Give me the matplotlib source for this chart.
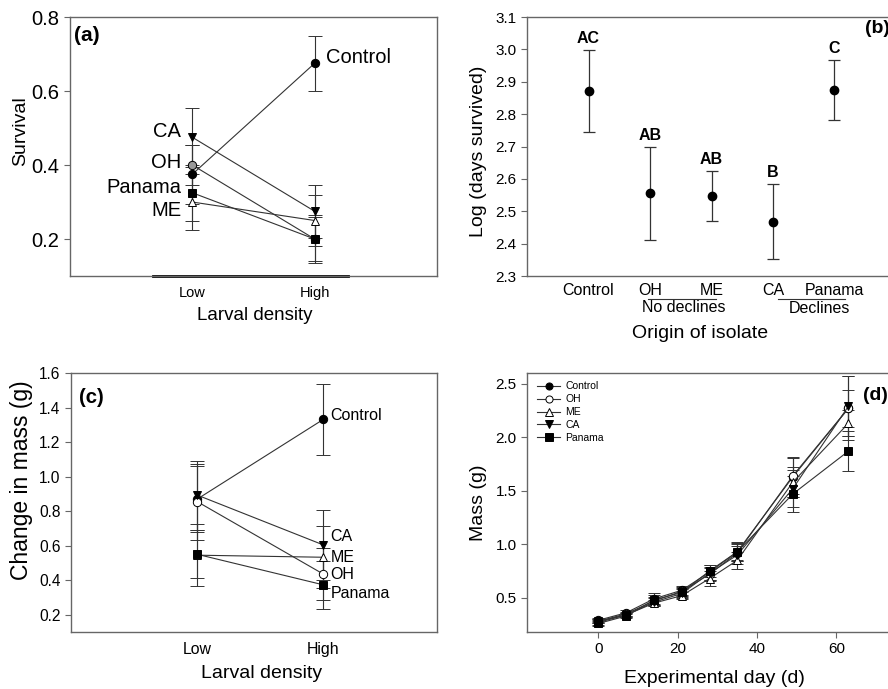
import numpy as np
import matplotlib
matplotlib.use('Agg')
import matplotlib.pyplot as plt
import matplotlib.transforms as mtransforms

plt.rcParams['font.family'] = ['Liberation Sans', 'DejaVu Sans']

# ---- data ----
groups = ['Control', 'OH', 'ME', 'CA', 'Panama']
density = ['Low', 'High']

# (a) survival, low / high density
surv = {'Control': [0.375, 0.675], 'OH': [0.40, 0.20], 'ME': [0.30, 0.25],
        'CA': [0.475, 0.275], 'Panama': [0.325, 0.20]}
surv_err = {'Control': [0.08, 0.075], 'OH': [0.055, 0.065], 'ME': [0.075, 0.07],
            'CA': [0.08, 0.072], 'Panama': [0.075, 0.06]}

# (b) log days survived
logdays = [2.871, 2.555, 2.547, 2.468, 2.874]
logdays_err = [0.127, 0.144, 0.077, 0.116, 0.092]
letters = ['AC', 'AB', 'AB', 'B', 'C']

# (c) change in mass
dmass = {'Control': [0.87, 1.332], 'OH': [0.855, 0.435], 'ME': [0.545, 0.533],
         'CA': [0.893, 0.604], 'Panama': [0.55, 0.373]}
dmass_err = {'Control': [0.19, 0.205], 'OH': [0.22, 0.15], 'ME': [0.18, 0.18],
             'CA': [0.2, 0.205], 'Panama': [0.14, 0.14]}

# (d) mass over time
days = [0, 7, 14, 21, 28, 35, 49, 63]
mass = {'Control': [0.29, 0.36, 0.49, 0.57, 0.74, 0.93, 1.63, 2.27],
        'OH': [0.28, 0.35, 0.47, 0.56, 0.72, 0.92, 1.64, 2.27],
        'ME': [0.27, 0.34, 0.45, 0.52, 0.68, 0.85, 1.58, 2.13],
        'CA': [0.28, 0.34, 0.46, 0.54, 0.73, 0.90, 1.52, 2.29],
        'Panama': [0.26, 0.33, 0.48, 0.55, 0.75, 0.93, 1.47, 1.87]}
mass_err = {'Control': [0.02, 0.03, 0.05, 0.04, 0.07, 0.09, 0.19, 0.30],
            'OH': [0.02, 0.02, 0.04, 0.04, 0.06, 0.08, 0.17, 0.17],
            'ME': [0.02, 0.02, 0.03, 0.03, 0.07, 0.08, 0.14, 0.12],
            'CA': [0.02, 0.02, 0.04, 0.04, 0.06, 0.08, 0.17, 0.28],
            'Panama': [0.02, 0.02, 0.05, 0.04, 0.06, 0.08, 0.17, 0.19]}

# marker styles
mk = {'Control': ('o', 'black'), 'OH': ('o', 'white'), 'ME': ('^', 'white'),
      'CA': ('v', 'black'), 'Panama': ('s', 'black')}

line_c = '#333333'
spine_c = '#666666'

def style(ax):
    for s in ax.spines.values():
        s.set_color(spine_c)
        s.set_linewidth(1.0)
    ax.tick_params(colors=spine_c, labelcolor='black', direction='out', length=4, width=0.8)


fig = plt.figure(figsize=(8.88, 6.89), dpi=100)
ax_a = fig.add_axes([0.0788, 0.5994, 0.4133, 0.3759])
ax_b = fig.add_axes([0.5935, 0.5994, 0.4155, 0.3759])
ax_c = fig.add_axes([0.0800, 0.0827, 0.4122, 0.3759])
ax_d = fig.add_axes([0.5935, 0.0827, 0.4155, 0.3759])

xpos = np.array([1, 2])

# ---- (a) ----
a_face = dict(mk)
a_face['OH'] = ('o', '#999999')
for g in groups:
    m, fc = a_face[g]
    ax_a.errorbar(xpos, surv[g], yerr=surv_err[g], color=line_c, lw=0.8, elinewidth=0.8,
                  capsize=5, capthick=0.8, marker=m, ms=6, mfc=fc, mec='black', mew=0.7)
a_off = {'CA': 4, 'OH': 2, 'Panama': 4, 'ME': -6}
for g in ['CA', 'OH', 'Panama', 'ME']:
    ax_a.annotate(g, (1, surv[g][0]), xytext=(-8, a_off[g]), textcoords='offset points',
                  ha='right', va='center', fontsize=14.5)
ax_a.annotate('Control', (2, surv['Control'][1]), xytext=(8, 4), textcoords='offset points',
              ha='left', va='center', fontsize=14.5)
ax_a.set_xlim(0, 3)
ax_a.set_ylim(0.1, 0.8)
ax_a.set_yticks([0.2, 0.4, 0.6, 0.8])
ax_a.set_xticks(xpos, density)
style(ax_a)
ax_a.tick_params(axis='y', labelsize=14.5)
ax_a.tick_params(axis='x', length=0, labelsize=10.5, pad=7)
ax_a.axhline(0.1, xmin=0.226, xmax=0.757, color='black', lw=2, clip_on=False)
ax_a.set_xlabel('Larval density', fontsize=13.5, va='top')
ax_a.xaxis.set_label_coords(0.504, -0.118)
ax_a.set_ylabel('Survival', fontsize=14)
ax_a.yaxis.set_label_coords(-0.112, 0.56)
ax_a.text(0.01, 0.93, '(a)', transform=ax_a.transAxes, fontsize=15, fontweight='bold',
          va='center', ha='left')

# ---- (b) ----
bx = np.arange(1, len(groups) + 1)
ax_b.errorbar(bx, logdays, yerr=logdays_err, fmt='o', color='black', ms=6,
              ecolor=line_c, elinewidth=0.9, capsize=4, capthick=0.9)
for x, v, e, t in zip(bx, logdays, logdays_err, letters):
    ax_b.annotate(t, (x, v + e), xytext=(0, 3), textcoords='offset points',
                  ha='center', va='bottom', fontsize=11.5, fontweight='bold')
ax_b.set_xlim(0, 6)
ax_b.set_ylim(2.3, 3.1)
ax_b.set_yticks(np.arange(2.3, 3.11, 0.1))
ax_b.set_yticklabels(['%.1f' % v for v in np.arange(2.3, 3.11, 0.1)])
ax_b.set_xticks(bx, groups)
style(ax_b)
ax_b.tick_params(axis='y', labelsize=11)
ax_b.tick_params(axis='x', length=0, labelsize=11.5, pad=5)
tr = mtransforms.blended_transform_factory(ax_b.transData, ax_b.transAxes)
ax_b.plot([1.97, 3.07], [-0.089, -0.089], transform=tr, color=line_c, lw=0.8, clip_on=False)
ax_b.plot([4.08, 5.17], [-0.089, -0.089], transform=tr, color=line_c, lw=0.8, clip_on=False)
ax_b.text(2.55, -0.093, 'No declines', transform=tr, ha='center', va='top', fontsize=11.5)
ax_b.text(4.75, -0.098, 'Declines', transform=tr, ha='center', va='top', fontsize=11.5)
ax_b.set_xlabel('Origin of isolate', fontsize=14, va='top')
ax_b.xaxis.set_label_coords(0.47, -0.19)
ax_b.set_ylabel('Log (days survived)', fontsize=14)
ax_b.yaxis.set_label_coords(-0.108, 0.483)
ax_b.text(0.916, 0.957, '(b)', transform=ax_b.transAxes, fontsize=14, fontweight='bold',
          va='center', ha='left')

# ---- (c) ----
for g in groups:
    m, fc = mk[g]
    ax_c.errorbar(xpos, dmass[g], yerr=dmass_err[g], color=line_c, lw=0.8, elinewidth=0.8,
                  capsize=5, capthick=0.8, marker=m, ms=6, mfc=fc, mec='black', mew=0.7)
c_off = {'Control': 3, 'CA': 6, 'ME': 0, 'OH': 0, 'Panama': -6}
for g in groups:
    ax_c.annotate(g, (2, dmass[g][1]), xytext=(5, c_off[g]), textcoords='offset points',
                  ha='left', va='center', fontsize=11.5)
ax_c.set_xlim(0, 2.9)
ax_c.set_ylim(0.1, 1.6)
ax_c.set_yticks(np.arange(0.2, 1.61, 0.2))
ax_c.set_yticklabels(['%.1f' % v for v in np.arange(0.2, 1.61, 0.2)])
ax_c.set_xticks(xpos, density)
style(ax_c)
ax_c.tick_params(axis='y', labelsize=11.2)
ax_c.tick_params(axis='x', length=0, labelsize=11.4, pad=7)
ax_c.set_xlabel('Larval density', fontsize=14, va='top')
ax_c.xaxis.set_label_coords(0.52, -0.128)
ax_c.set_ylabel('Change in mass (g)', fontsize=16.5)
ax_c.yaxis.set_label_coords(-0.104, 0.587)
ax_c.text(0.022, 0.907, '(c)', transform=ax_c.transAxes, fontsize=14.7, fontweight='bold',
          va='center', ha='left')

# ---- (d) ----
for g in groups:
    m, fc = mk[g]
    ax_d.errorbar(days, mass[g], yerr=mass_err[g], color=line_c, lw=0.8, elinewidth=0.8,
                  capsize=4, capthick=0.8, marker=m, ms=6, mfc=fc, mec='black', mew=0.7,
                  label=g)
ax_d.set_xlim(-18, 75)
ax_d.set_ylim(0.18, 2.6)
ax_d.set_xticks([0, 20, 40, 60])
ax_d.set_yticks([0.5, 1.0, 1.5, 2.0, 2.5])
style(ax_d)
ax_d.tick_params(labelsize=11)
handles, labels = ax_d.get_legend_handles_labels()
handles = [h[0] for h in handles]
ax_d.legend(handles, labels, loc='upper left', bbox_to_anchor=(0.005, 1.0), frameon=False,
            fontsize=7.5, handlelength=2.2, handletextpad=0.5, labelspacing=0.28,
            borderaxespad=0.4, markerscale=0.85)
ax_d.set_xlabel('Experimental day (d)', fontsize=14, va='top')
ax_d.xaxis.set_label_coords(0.507, -0.147)
ax_d.set_ylabel('Mass (g)', fontsize=14)
ax_d.yaxis.set_label_coords(-0.108, 0.5)
ax_d.text(0.91, 0.915, '(d)', transform=ax_d.transAxes, fontsize=14, fontweight='bold',
          va='center', ha='left')

fig.savefig('out.png', dpi=100)
